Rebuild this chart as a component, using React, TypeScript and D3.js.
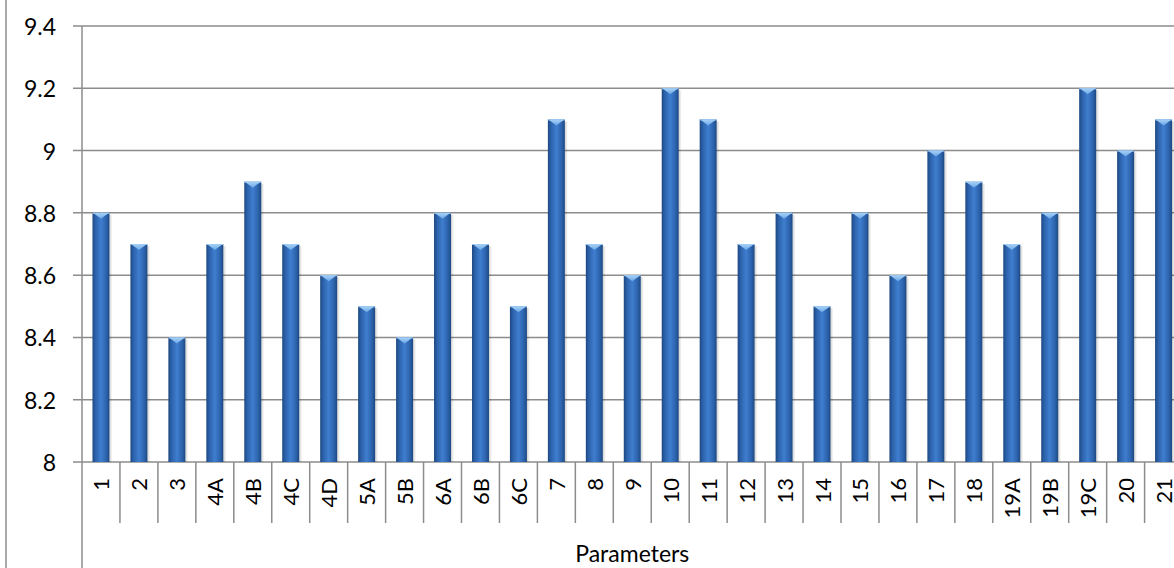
import React from "react";
import * as d3 from "d3";

const categories: string[] = ["1","2","3","4A","4B","4C","4D","5A","5B","6A","6B","6C","7","8","9","10","11","12","13","14","15","16","17","18","19A","19B","19C","20","21"];
const values: number[] = [8.8,8.7,8.4,8.7,8.9,8.7,8.6,8.5,8.4,8.8,8.7,8.5,9.1,8.7,8.6,9.2,9.1,8.7,8.8,8.5,8.8,8.6,9.0,8.9,8.7,8.8,9.2,9.0,9.1];
const yTicks: number[] = [8, 8.2, 8.4, 8.6, 8.8, 9, 9.2, 9.4];
const xTitle = "Parameters";

const W = 1174;
const H = 568;
const FONT = "Lato, 'Open Sans', sans-serif";

export default function App() {
  const left = 82;
  const bandW = 37.95;
  const right = left + bandW * categories.length;
  const top = 26;
  const base = 462;

  const x = d3.scaleBand<string>().domain(categories).range([left, right]).paddingInner(0).paddingOuter(0);
  const y = d3.scaleLinear().domain([8, 9.4]).range([base, top]);
  const barW = 17;
  const gridColor = "#8c8c8c";

  return (
    <svg width={W} height={H} style={{ position: "absolute", left: 0, top: 0, background: "#fff" }}>
      <defs>
        <linearGradient id="barGrad" x1="0" x2="1" y1="0" y2="0">
          <stop offset="0%" stopColor="#1d4880" />
          <stop offset="18%" stopColor="#2c62ab" />
          <stop offset="50%" stopColor="#3f7ecf" />
          <stop offset="82%" stopColor="#2c62ab" />
          <stop offset="100%" stopColor="#1d4880" />
        </linearGradient>
        <linearGradient id="capGrad" x1="0" x2="0" y1="0" y2="1">
          <stop offset="0%" stopColor="#a9d3f7" />
          <stop offset="100%" stopColor="#6aa6e6" />
        </linearGradient>
        <linearGradient id="shadowGrad" x1="0" x2="1" y1="0" y2="0">
          <stop offset="0%" stopColor="#000" stopOpacity="0.18" />
          <stop offset="100%" stopColor="#000" stopOpacity="0" />
        </linearGradient>
      </defs>

      {/* outer border */}
      <line x1={6} x2={6} y1={0} y2={H} stroke={gridColor} strokeWidth={1.5} />

      {/* gridlines + y ticks */}
      {yTicks.map((t) => (
        <g key={t}>
          <line x1={left - 9} x2={right} y1={y(t)} y2={y(t)} stroke={gridColor} strokeWidth={1.5} />
          <text x={56} y={y(t)} textAnchor="end" dominantBaseline="central" fontFamily={FONT} fontSize={23} fill="#000">
            {String(t)}
          </text>
        </g>
      ))}

      {/* y axis line */}
      <line x1={left} x2={left} y1={top} y2={H} stroke={gridColor} strokeWidth={1.5} />

      {/* category separators */}
      {categories.map((c) => (
        <line key={"s" + c} x1={(x(c) as number) + bandW} x2={(x(c) as number) + bandW} y1={base} y2={523} stroke={gridColor} strokeWidth={1.5} />
      ))}

      {/* bars */}
      {categories.map((c, i) => {
        const cx = (x(c) as number) + x.bandwidth() / 2;
        const bx = cx - barW / 2;
        const by = y(values[i]);
        const bh = base - by;
        return (
          <g key={"b" + c}>
            <rect x={bx + barW} y={by + 2} width={3} height={bh - 2} fill="url(#shadowGrad)" />
            <rect x={bx} y={by} width={barW} height={bh} fill="url(#barGrad)" />
            <path d={`M${bx + 0.5},${by} L${bx + barW - 0.5},${by} L${cx},${by + 6} Z`} fill="url(#capGrad)" />
            <line x1={bx} x2={bx + barW} y1={by + 0.5} y2={by + 0.5} stroke="#9ccbf4" strokeWidth={1} />
          </g>
        );
      })}

      {/* x labels */}
      {categories.map((c) => {
        const cx = (x(c) as number) + x.bandwidth() / 2;
        return (
          <text key={"l" + c} transform={`translate(${cx},${478}) rotate(-90)`} textAnchor="end" dominantBaseline="central" fontFamily={FONT} fontSize={22} fill="#000">
            {c}
          </text>
        );
      })}

      {/* x title */}
      <text x={(left + right) / 2} y={562} textAnchor="middle" fontFamily={FONT} fontSize={23} fill="#000">
        {xTitle}
      </text>
    </svg>
  );
}
